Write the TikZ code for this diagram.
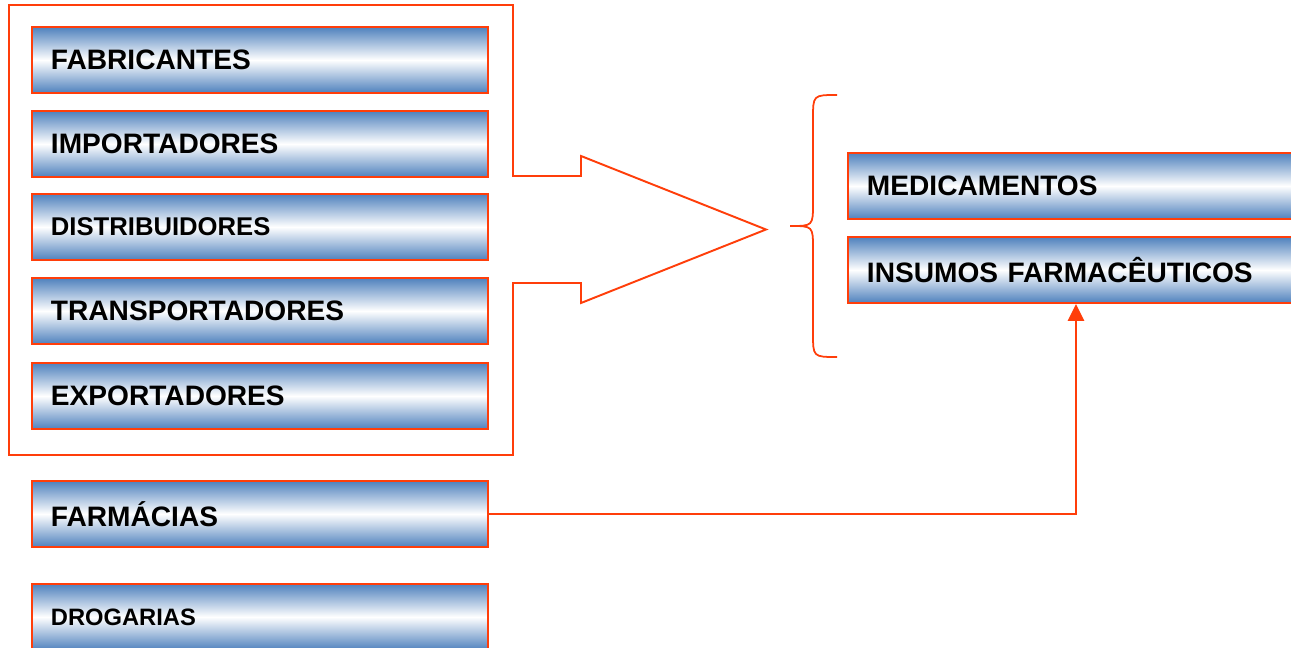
\documentclass[tikz,border=0pt]{standalone}
\usepackage{fontspec}
\setmainfont{Liberation Sans}
\usetikzlibrary{arrows.meta}
\definecolor{edge}{RGB}{255,62,10}
\definecolor{barblue}{RGB}{79,129,189}
\tikzset{
  bar/.style={rectangle, draw=edge, line width=1.1pt,
    top color=barblue, bottom color=barblue, middle color=white,
    minimum width=9.12cm, minimum height=1.32cm,
    inner xsep=0.38cm, text width=8.36cm, align=left,
    font=\bfseries\fontsize{16}{18}\selectfont, anchor=north west},
  smallbar/.style={bar, font=\bfseries\fontsize{#1}{15}\selectfont},
  outline/.style={draw=edge, line width=1.1pt, line join=miter},
  link/.style={draw=edge, line width=1.5pt, -{Triangle[width=0.32cm,length=0.34cm]}}
}
\begin{document}
\begin{tikzpicture}[x=0.02cm,y=-0.02cm]
\clip (0,0) rectangle (1291,648);
\fill[white] (0,0) rectangle (1291,648);

% grouping frame that narrows into an arrow
\draw[outline] (9,5) -- (513,5) -- (513,176) -- (581,176) -- (581,156)
  -- (766,229.5) -- (581,303) -- (581,283) -- (513,283) -- (513,455)
  -- (9,455) -- cycle;

% left column of bars
\node[bar]            (fab)  at (31,26)  {FABRICANTES};
\node[bar]            (imp)  at (31,110) {IMPORTADORES};
\node[smallbar=14.6]  (dist) at (31,193) {DISTRIBUIDORES};
\node[bar]            (tra)  at (31,277) {TRANSPORTADORES};
\node[bar]            (exp)  at (31,362) {EXPORTADORES};
\node[bar]            (farm) at (31,480) {FARMÁCIAS};
\node[smallbar=13.5]  (drog) at (31,583) {DROGARIAS};

% right column of bars
\node[bar] (med) at (847,152) {MEDICAMENTOS};
\node[bar] (ins) at (847,236) {INSUMOS FARMACÊUTICOS};

% curly brace
\draw[outline, line width=1pt] (837,95) .. controls (813,95) .. (813,119) -- (813,203)
  .. controls (813,226) .. (790,226) .. controls (813,226) .. (813,249)
  -- (813,333) .. controls (813,357) .. (837,357);

% link from FARMÁCIAS up to INSUMOS
\coordinate (col) at (1076,0);
\draw[link] (farm.east) -| (ins.south -| col);
\end{tikzpicture}
\end{document}
